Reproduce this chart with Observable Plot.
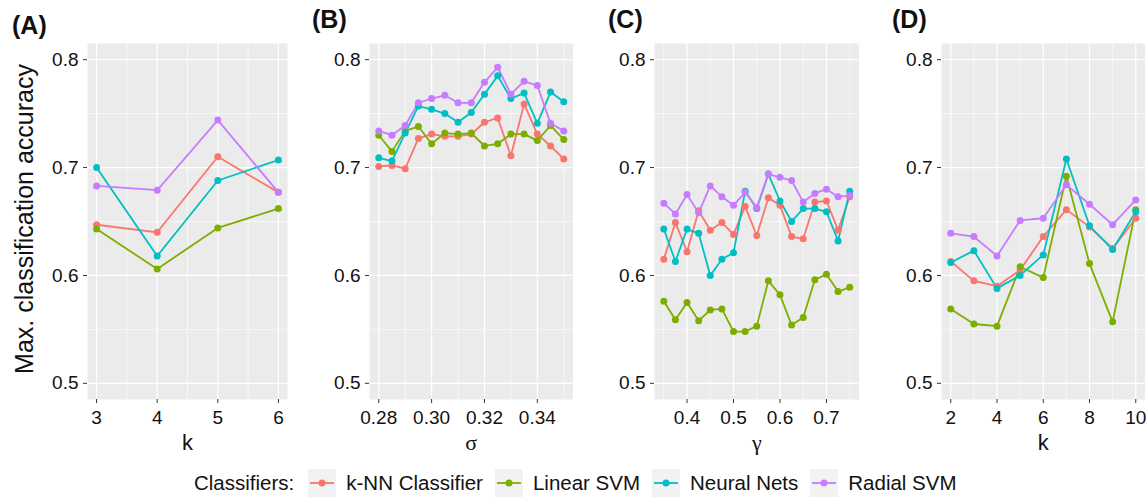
<!DOCTYPE html>
<html>
<head>
<meta charset="utf-8">
<script src="https://cdn.jsdelivr.net/npm/d3@7"></script>
<script src="https://cdn.jsdelivr.net/npm/@observablehq/plot@0.6"></script>
<style>
  html, body { margin: 0; padding: 0; background: #fff; }
  body { font-family: "Liberation Sans", Arial, Helvetica, sans-serif; color: #111; }
  #figure { position: relative; width: 1148px; height: 498px; overflow: hidden; background: #fff; }
  .panel { position: absolute; top: 0; }
  .tag { position: absolute; font-weight: bold; font-size: 25px; line-height: 25px; white-space: nowrap; }
  #legend { position: absolute; left: 194px; top: 469px; height: 28px; display: flex; align-items: center;
            font-size: 20.5px; white-space: nowrap; }
  #legend .title { margin-right: 14px; }
  #legend svg { display: block; margin-right: 10px; }
  #legend .name { margin-right: 12px; }
</style>
</head>
<body>
<div id="figure"></div>
<script>
// Classifier series and their colours
const classifiers = ["k-NN Classifier", "Linear SVM", "Neural Nets", "Radial SVM"];
const palette = ["#F8766D", "#7CAE00", "#00BFC4", "#C77CFF"];

// Shared accuracy axis
const yTicks = [0.5, 0.6, 0.7, 0.8];

// (A) number of neighbours k
const kA = [3, 4, 5, 6];
const knnA = [0.647, 0.640, 0.710, 0.677];
const linearA = [0.643, 0.606, 0.644, 0.662];
const neuralA = [0.700, 0.618, 0.688, 0.707];
const radialA = [0.683, 0.679, 0.744, 0.677];

// (B) kernel width sigma
const sigmaB = [0.280, 0.285, 0.290, 0.295, 0.300, 0.305, 0.310, 0.315, 0.320, 0.325, 0.330, 0.335, 0.340, 0.345, 0.350];
const knnB = [0.701, 0.702, 0.699, 0.727, 0.731, 0.729, 0.729, 0.731, 0.742, 0.746, 0.711, 0.759, 0.731, 0.720, 0.708];
const linearB = [0.730, 0.715, 0.734, 0.738, 0.722, 0.732, 0.731, 0.732, 0.720, 0.722, 0.731, 0.731, 0.725, 0.739, 0.726];
const neuralB = [0.709, 0.706, 0.732, 0.757, 0.754, 0.750, 0.742, 0.751, 0.768, 0.785, 0.764, 0.769, 0.741, 0.770, 0.761];
const radialB = [0.734, 0.730, 0.739, 0.760, 0.764, 0.767, 0.760, 0.760, 0.779, 0.793, 0.768, 0.780, 0.776, 0.741, 0.734];

// (C) parameter gamma
const gammaC = [0.350, 0.375, 0.400, 0.425, 0.450, 0.475, 0.500, 0.525, 0.550, 0.575, 0.600, 0.625, 0.650, 0.675, 0.700, 0.725, 0.750];
const knnC = [0.615, 0.649, 0.622, 0.660, 0.642, 0.649, 0.638, 0.664, 0.637, 0.672, 0.665, 0.636, 0.634, 0.668, 0.669, 0.642, 0.673];
const linearC = [0.576, 0.559, 0.575, 0.558, 0.568, 0.569, 0.548, 0.548, 0.553, 0.595, 0.582, 0.554, 0.561, 0.596, 0.601, 0.585, 0.589];
const neuralC = [0.643, 0.613, 0.643, 0.639, 0.600, 0.615, 0.621, 0.678, 0.662, 0.694, 0.669, 0.650, 0.662, 0.662, 0.659, 0.632, 0.678];
const radialC = [0.667, 0.657, 0.675, 0.658, 0.683, 0.673, 0.665, 0.677, 0.663, 0.694, 0.691, 0.688, 0.668, 0.676, 0.680, 0.673, 0.674];

// (D) number of neighbours k
const kD = [2, 3, 4, 5, 6, 7, 8, 9, 10];
const knnD = [0.613, 0.595, 0.590, 0.605, 0.636, 0.661, 0.645, 0.625, 0.653];
const linearD = [0.569, 0.555, 0.553, 0.608, 0.598, 0.692, 0.611, 0.557, 0.661];
const neuralD = [0.612, 0.623, 0.588, 0.600, 0.619, 0.708, 0.646, 0.624, 0.659];
const radialD = [0.639, 0.636, 0.618, 0.651, 0.653, 0.684, 0.666, 0.647, 0.670];

// Axis tick labels per panel
const xTicksA = [3, 4, 5, 6];
const xTicksB = [0.28, 0.30, 0.32, 0.34];
const xTicksC = [0.4, 0.5, 0.6, 0.7];
const xTicksD = [2, 4, 6, 8, 10];

const sans = '"Liberation Sans", Arial, Helvetica, sans-serif';
const serif = '"Liberation Serif", "Times New Roman", serif';

const panels = [
  {tag: "(A)", xs: kA, series: [knnA, linearA, neuralA, radialA], ticks: xTicksA, fmt: d => d.toFixed(0),
   label: "k", labelFont: sans, frameLeft: 87, frameWidth: 200, tagX: 12, tagTop: 13, yTitle: "Max. classification accuracy"},
  {tag: "(B)", xs: sigmaB, series: [knnB, linearB, neuralB, radialB], ticks: xTicksB, fmt: d => d.toFixed(2),
   label: "σ", labelFont: serif, frameLeft: 368.5, frameWidth: 203.5, tagX: 312, tagTop: 7},
  {tag: "(C)", xs: gammaC, series: [knnC, linearC, neuralC, radialC], ticks: xTicksC, fmt: d => d.toFixed(1),
   label: "γ", labelFont: serif, frameLeft: 654.3, frameWidth: 204.5, tagX: 608, tagTop: 7},
  {tag: "(D)", xs: kD, series: [knnD, linearD, neuralD, radialD], ticks: xTicksD, fmt: d => d.toFixed(0),
   label: "k", labelFont: sans, frameLeft: 940.5, frameWidth: 203.5, tagX: 892, tagTop: 7}
];

// ggplot-style 5% expansion of a continuous range
function expand([lo, hi]) {
  const pad = (hi - lo) * 0.05;
  return [lo - pad, hi + pad];
}

// Minor grid positions half-way between major ticks, kept inside the domain
function minorBreaks(ticks, domain) {
  const step = ticks[1] - ticks[0];
  const ext = [ticks[0] - step, ...ticks, ticks[ticks.length - 1] + step];
  const mids = [];
  for (let i = 0; i < ext.length - 1; i++) mids.push((ext[i] + ext[i + 1]) / 2);
  return mids.filter(m => m >= domain[0] && m <= domain[1]);
}

const yDomain = expand([yTicks[0], yTicks[yTicks.length - 1]]);
const yMinor = minorBreaks(yTicks, yDomain);

const fig = document.getElementById("figure");
const marginTop = 43, marginBottom = 61, svgHeight = 460, marginRight = 5;

for (const p of panels) {
  const rows = classifiers.flatMap((name, j) => p.xs.map((x, i) => ({x, y: p.series[j][i], series: name})));
  const xDomain = expand(d3.extent(p.xs));
  const xMinor = minorBreaks(p.ticks, xDomain);
  const marginLeft = p.yTitle ? p.frameLeft : 60;

  const marks = [
    Plot.frame({fill: "#EBEBEB", stroke: "none"}),
    Plot.gridY(yMinor, {stroke: "#fff", strokeOpacity: 1, strokeWidth: 0.6}),
    Plot.gridX(xMinor, {stroke: "#fff", strokeOpacity: 1, strokeWidth: 0.6}),
    Plot.gridY(yTicks, {stroke: "#fff", strokeOpacity: 1, strokeWidth: 1.2}),
    Plot.gridX(p.ticks, {stroke: "#fff", strokeOpacity: 1, strokeWidth: 1.2}),
    Plot.axisY(yTicks, {tickSize: 4, tickPadding: 5, tickFormat: d => d.toFixed(1), fontSize: 19,
                        color: "#111", stroke: "#333", label: null}),
    Plot.axisX(p.ticks, {tickSize: 4, tickPadding: 7, tickFormat: p.fmt, fontSize: 19,
                         color: "#111", stroke: "#333", label: null}),
    Plot.line(rows, {x: "x", y: "y", z: "series", stroke: "series", strokeWidth: 1.8}),
    Plot.dot(rows, {x: "x", y: "y", fill: "series", r: 3.5}),
    Plot.text([p.label], {text: d => d, frameAnchor: "bottom", lineAnchor: "middle", dy: 43,
                          fontSize: 22, fontFamily: p.labelFont, fill: "#111"})
  ];
  if (p.yTitle) {
    marks.push(Plot.text([p.yTitle], {text: d => d, frameAnchor: "left", textAnchor: "middle", lineAnchor: "middle",
                                      rotate: -90, dx: -63, dy: -2.5, fontSize: 25, fill: "#111"}));
  }

  const chart = Plot.plot({
    width: marginLeft + p.frameWidth + marginRight,
    height: svgHeight,
    marginTop, marginBottom, marginLeft, marginRight,
    x: {domain: xDomain},
    y: {domain: yDomain},
    color: {domain: classifiers, range: palette},
    style: {fontFamily: sans, background: "transparent", overflow: "visible"},
    marks
  });
  chart.classList.add("panel");
  chart.style.left = (p.frameLeft - marginLeft) + "px";
  fig.appendChild(chart);

  const tag = document.createElement("div");
  tag.className = "tag";
  tag.textContent = p.tag;
  tag.style.left = p.tagX + "px";
  tag.style.top = p.tagTop + "px";
  fig.appendChild(tag);
}

// Legend: line-and-point keys for each classifier
const legend = document.createElement("div");
legend.id = "legend";
const lt = document.createElement("span");
lt.className = "title";
lt.textContent = "Classifiers:";
legend.appendChild(lt);
const ns = "http://www.w3.org/2000/svg";
classifiers.forEach((name, i) => {
  const svg = document.createElementNS(ns, "svg");
  svg.setAttribute("width", 28);
  svg.setAttribute("height", 28);
  const bg = document.createElementNS(ns, "rect");
  bg.setAttribute("width", 28); bg.setAttribute("height", 28); bg.setAttribute("fill", "#F2F2F2");
  const ln = document.createElementNS(ns, "line");
  ln.setAttribute("x1", 2); ln.setAttribute("x2", 26); ln.setAttribute("y1", 14); ln.setAttribute("y2", 14);
  ln.setAttribute("stroke", palette[i]); ln.setAttribute("stroke-width", 1.8);
  const dot = document.createElementNS(ns, "circle");
  dot.setAttribute("cx", 14); dot.setAttribute("cy", 14); dot.setAttribute("r", 3.5); dot.setAttribute("fill", palette[i]);
  svg.append(bg, ln, dot);
  legend.appendChild(svg);
  const label = document.createElement("span");
  label.className = "name";
  label.textContent = name;
  legend.appendChild(label);
});
fig.appendChild(legend);
</script>
</body>
</html>
